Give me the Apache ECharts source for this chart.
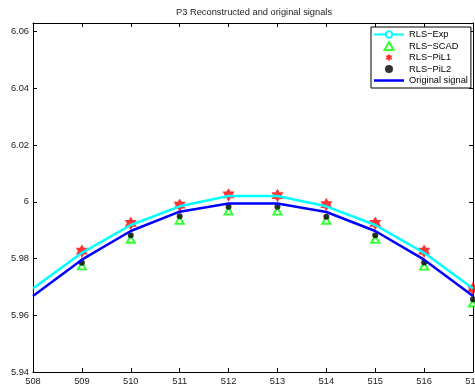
<!DOCTYPE html>
<html>
<head>
<meta charset="utf-8">
<script src="https://cdn.jsdelivr.net/npm/echarts@6/dist/echarts.min.js"></script>
<style>
  html, body { margin: 0; padding: 0; background: #fff; }
  #main { width: 475px; height: 392px; }
</style>
</head>
<body>
<div id="main"></div>
<script>
// sample index and values
var t = [508, 509, 510, 511, 512, 513, 514, 515, 516, 517]
var rlsExp = [5.9694, 5.9820, 5.9918, 5.9984, 6.0020, 6.0020, 5.9984, 5.9918, 5.9820, 5.9694]
var original = [5.9668, 5.9796, 5.9897, 5.9965, 5.9994, 5.9994, 5.9964, 5.9897, 5.9796, 5.9668]

// markers only shown from 509 on
var tm = [509, 510, 511, 512, 513, 514, 515, 516, 517]
var rlsScad = [5.9774, 5.9868, 5.9935, 5.9967, 5.9967, 5.9935, 5.9868, 5.9773, 5.9643]
var rlsPil1 = [5.9826, 5.9924, 5.9988, 6.0024, 6.0022, 5.9990, 5.9924, 5.9826, 5.9694]
var rlsPil2 = [5.9785, 5.9882, 5.9949, 5.9982, 5.9982, 5.9947, 5.9882, 5.9786, 5.9656]

var yTicks = [5.94, 5.96, 5.98, 6, 6.02, 6.04, 6.06]

function pairs(xs, ys) {
  return xs.map(function (x, i) { return [x, ys[i]] })
}

// six point star like matlab 'h', and a triangle that keeps its shape in the legend
var hexagram = 'path://M0,-100L28.87,-50L86.6,-50L57.7,0L86.6,50L28.87,50L0,100L-28.87,50L-86.6,50L-57.7,0L-86.6,-50L-28.87,-50Z'
var tri = 'path://M0,-50L57,50L-57,50Z'
var bar = 'path://M0,0L30,0L30,2.5L0,2.5Z'

var font = 'Liberation Sans, Arial, sans-serif'
var myChart = echarts.init(document.getElementById('main'))

var xBase = {
  type: 'value', min: 508, max: 517, interval: 1,
  axisLine: { lineStyle: { color: '#000', width: 1 } },
  axisTick: { inside: true, length: 4, lineStyle: { color: '#000' } },
  splitLine: { show: false }
}
var yBase = {
  type: 'value', min: 5.94, max: 6.063,
  axisLine: { show: true, lineStyle: { color: '#000', width: 1 } },
  axisTick: { inside: true, length: 4, customValues: yTicks, lineStyle: { color: '#000' } },
  splitLine: { show: false }
}

var option = {
  animation: false,
  backgroundColor: '#fff',
  title: {
    text: 'P3 Reconstructed and original signals',
    left: 176, top: 8, padding: 0,
    textStyle: { fontFamily: font, fontSize: 9.3, fontWeight: 'normal', color: '#222' }
  },
  grid: { left: 33, right: 2, top: 23, bottom: 20, outerBoundsMode: 'none', containLabel: false },
  legend: {
    orient: 'vertical',
    left: 371, top: 27,
    padding: [2, 3, 2, 2],
    itemWidth: 30, itemHeight: 8, itemGap: 0.5,
    borderColor: '#000', borderWidth: 1, backgroundColor: '#fff',
    textStyle: { fontFamily: font, fontSize: 9.3, lineHeight: 11, color: '#000' },
    data: [
      'RLS\u2212Exp',
      'RLS\u2212SCAD',
      'RLS\u2212PiL1',
      'RLS\u2212PiL2',
      { name: 'Original signal', icon: bar }
    ]
  },
  xAxis: [
    Object.assign({}, xBase, {
      position: 'bottom',
      axisLabel: { margin: 5, fontFamily: font, fontSize: 9.3, color: '#222', hideOverlap: false }
    }),
    Object.assign({}, xBase, { position: 'top', axisLabel: { show: false } })
  ],
  yAxis: [
    Object.assign({}, yBase, {
      position: 'left',
      axisLabel: { margin: 4, customValues: yTicks, fontFamily: font, fontSize: 9.3, color: '#222' }
    }),
    Object.assign({}, yBase, { position: 'right', axisLabel: { show: false } })
  ],
  series: [
    {
      name: 'RLS\u2212Exp', type: 'line',
      data: pairs(t, rlsExp),
      symbol: 'emptyCircle', symbolSize: 7, showSymbol: false,
      lineStyle: { color: '#00ffff', width: 2.5 },
      itemStyle: { color: '#00ffff' }
    },
    {
      name: 'RLS\u2212SCAD', type: 'scatter',
      data: pairs(tm, rlsScad),
      symbol: tri, symbolSize: [8, 7],
      itemStyle: { color: '#ffffff', borderColor: '#00ff00', borderWidth: 2 }
    },
    {
      name: 'RLS\u2212PiL1', type: 'scatter',
      data: pairs(tm, rlsPil1),
      symbol: hexagram, symbolSize: [12, 13.5],
      itemStyle: { color: '#ff0000' }
    },
    {
      name: 'RLS\u2212PiL2', type: 'scatter',
      data: pairs(tm, rlsPil2),
      symbol: 'circle', symbolSize: 6,
      itemStyle: { color: '#000000' }
    },
    {
      name: 'Original signal', type: 'line',
      data: pairs(t, original),
      symbol: 'none',
      lineStyle: { color: '#0000ff', width: 2.5 },
      itemStyle: { color: '#0000ff' }
    }
  ]
}
myChart.setOption(option)
</script>
</body>
</html>
